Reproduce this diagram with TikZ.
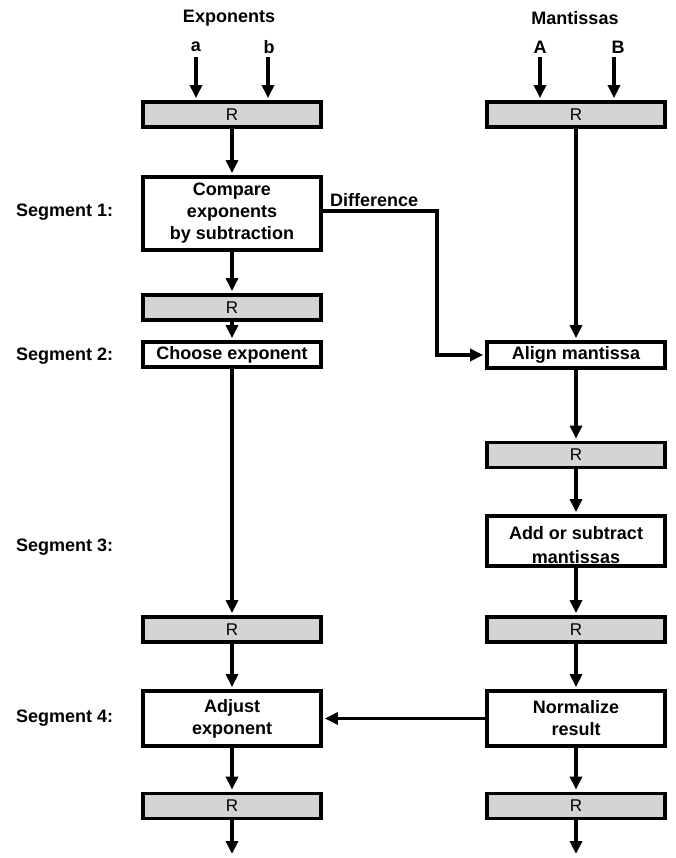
\documentclass[tikz,border=0pt]{standalone}
\usepackage{fontspec}
\setmainfont{Liberation Sans}
\usetikzlibrary{arrows.meta}
\begin{document}
\begin{tikzpicture}[x=1pt,y=-1pt,
  font=\fontsize{18}{22}\selectfont\bfseries,
  wire/.style={line width=3.5pt},
  flow/.style={wire,-{Triangle[length=13pt,width=12pt]},shorten >=2pt},
  reg/.style={draw,line width=3.8pt,fill=black!17,minimum width=178pt,minimum height=25pt,
    inner sep=0pt,font=\fontsize{17}{18}\selectfont\mdseries},
  stage/.style={draw,line width=3.8pt,fill=white,minimum width=178pt,inner sep=0pt,align=center},
  seglabel/.style={anchor=west,inner sep=0pt}]
\useasboundingbox (0,0) rectangle (675,858);

% column headings and inputs
\node (exph) at (229,18) {Exponents};
\node (manh) at (575,18) {Mantissas};
\node (ina) at (196,47) {a};
\node (inb) at (269,47) {b};
\node (inA) at (540,47) {A};
\node (inB) at (618,47) {B};

% registers
\node[reg] (r1L) at (232,114.5) {R};
\node[reg] (r1R) at (576,114.5) {R};
\node[reg] (r2L) at (232,307.5) {R};
\node[reg] (r2R) at (576,455) {R};
\node[reg] (r3L) at (232,629.5) {R};
\node[reg] (r3R) at (576,629.5) {R};
\node[reg] (r4L) at (232,806) {R};
\node[reg] (r4R) at (576,806) {R};

% processing stages
\node[stage,minimum height=73pt] (cmp) at (232,213.5) {Compare\\exponents\\by subtraction};
\node[stage,minimum height=25pt] (choose) at (232,354.5) {Choose exponent};
\node[stage,minimum height=26pt] (align) at (576,355) {Align mantissa};
\node[stage,minimum height=50pt] (add) at (576,541) {};
\node[align=center,inner sep=0pt,font=\fontsize{18}{24}\selectfont\bfseries] (addtxt) at (576,545) {Add or subtract\\mantissas};
\node[stage,minimum height=55pt] (adj) at (232,718.5) {Adjust\\exponent};
\node[stage,minimum height=55pt] (norm) at (576,718.5) {Normalize\\result};

% segment labels
\node[seglabel] (s1) at (16,212) {Segment 1:};
\node[seglabel] (s2) at (16,356) {Segment 2:};
\node[seglabel] (s3) at (16,547) {Segment 3:};
\node[seglabel] (s4) at (16,718) {Segment 4:};

% input arrows
\coordinate (ta) at (196,57);
\coordinate (tb) at (268,57);
\coordinate (tA) at (540,57);
\coordinate (tB) at (614,57);
\draw[flow] (ta) -- (ta |- r1L.north);
\draw[flow] (tb) -- (tb |- r1L.north);
\draw[flow] (tA) -- (tA |- r1R.north);
\draw[flow] (tB) -- (tB |- r1R.north);

% exponent path
\draw[flow] (r1L) -- (cmp);
\draw[flow] (cmp) -- (r2L);
\draw[flow] (r2L) -- (choose);
\draw[flow] (choose) -- (r3L);
\draw[flow] (r3L) -- (adj);
\draw[flow] (adj) -- (r4L);
\coordinate (outL) at (232,856);
\draw[flow] (r4L) -- (outL);

% mantissa path
\draw[flow] (r1R) -- (align);
\draw[flow] (align) -- (r2R);
\draw[flow] (r2R) -- (add);
\draw[flow] (add) -- (r3R);
\draw[flow] (r3R) -- (norm);
\draw[flow] (norm) -- (r4R);
\coordinate (outR) at (576,856);
\draw[flow] (r4R) -- (outR);

% exponent difference to the aligner
\coordinate (dturn) at (437,211);
\draw[flow] (cmp.east |- dturn) -- (dturn) |- (align.west);
\node[anchor=south west,inner sep=0pt] (diff) at (330,207) {Difference};

% normalisation feeds back to exponent adjustment
\draw[flow] (norm) -- (adj);
\end{tikzpicture}
\end{document}
